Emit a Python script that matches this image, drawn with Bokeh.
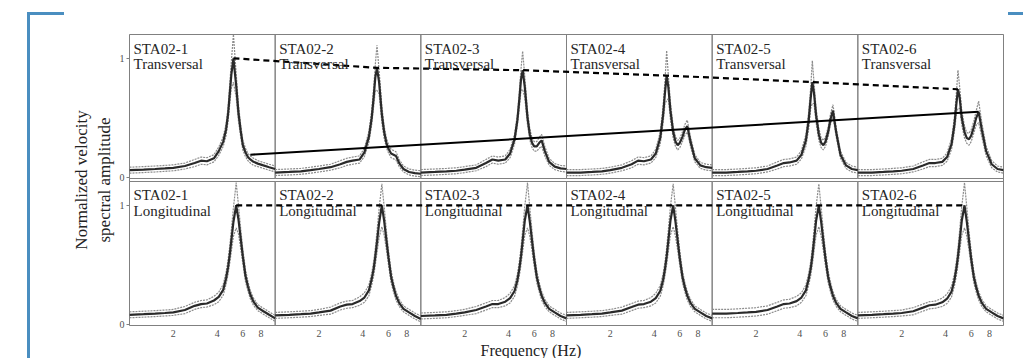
import math
from bokeh.plotting import figure
from bokeh.models import Range1d, FixedTicker, CustomJSTickFormatter, Title, Div
from bokeh.layouts import row
from bokeh.core.properties import value
from bokeh.embed import file_html
from bokeh.resources import INLINE

# ---------------- data ----------------
stations = ["STA02-1", "STA02-2", "STA02-3", "STA02-4", "STA02-5", "STA02-6"]
row_names = ["Transversal", "Longitudinal"]
tick_freqs = [2, 4, 6, 8]
amp_ticks = [0, 1]

freq = [1.0, 1.25, 1.5, 1.75, 2.0, 2.4, 2.8, 3.1, 3.4, 3.8, 4.1, 4.4, 4.6, 4.75, 4.87,
        5.0, 5.17, 5.4, 5.6, 5.8, 6.0, 6.25, 6.5, 6.75, 7.1, 7.6, 8.3, 9.1, 10.0]

# Transversal (top row): mean spectrum and spread (half-width of dotted band)
T1_mean = [0.06, 0.065, 0.07, 0.075, 0.08, 0.095, 0.12, 0.14, 0.135, 0.16, 0.22, 0.30, 0.40, 0.53, 0.69,
           0.86, 1.00, 0.77, 0.54, 0.39, 0.27, 0.21, 0.17, 0.15, 0.13, 0.115, 0.10, 0.085, 0.07]
T2_mean = [0.04, 0.045, 0.05, 0.06, 0.07, 0.085, 0.11, 0.13, 0.14, 0.15, 0.21, 0.34, 0.50, 0.68, 0.84,
           0.92, 0.80, 0.53, 0.38, 0.29, 0.24, 0.20, 0.19, 0.18, 0.12, 0.07, 0.045, 0.035, 0.03]
T3_mean = [0.04, 0.045, 0.05, 0.055, 0.065, 0.08, 0.12, 0.15, 0.14, 0.15, 0.20, 0.32, 0.48, 0.66, 0.82,
           0.90, 0.76, 0.50, 0.36, 0.29, 0.26, 0.26, 0.29, 0.31, 0.22, 0.13, 0.09, 0.075, 0.07]
T4_mean = [0.04, 0.04, 0.045, 0.05, 0.06, 0.08, 0.11, 0.14, 0.135, 0.15, 0.20, 0.33, 0.52, 0.72, 0.855,
           0.76, 0.56, 0.38, 0.30, 0.27, 0.29, 0.34, 0.40, 0.43, 0.30, 0.16, 0.10, 0.085, 0.08]
T5_mean = [0.04, 0.04, 0.045, 0.05, 0.055, 0.07, 0.10, 0.12, 0.125, 0.14, 0.19, 0.31, 0.48, 0.67, 0.80,
           0.71, 0.52, 0.36, 0.29, 0.27, 0.30, 0.38, 0.49, 0.56, 0.38, 0.19, 0.10, 0.07, 0.06]
T6_mean = [0.04, 0.04, 0.045, 0.05, 0.055, 0.07, 0.10, 0.12, 0.12, 0.13, 0.17, 0.28, 0.44, 0.62, 0.74,
           0.67, 0.50, 0.38, 0.33, 0.32, 0.35, 0.42, 0.50, 0.55, 0.40, 0.22, 0.11, 0.07, 0.06]

T1_spread = [0.025, 0.025, 0.025, 0.025, 0.025, 0.025, 0.03, 0.03, 0.03, 0.03, 0.035, 0.04, 0.05, 0.06, 0.08,
             0.11, 0.20, 0.10, 0.07, 0.05, 0.04, 0.035, 0.03, 0.03, 0.03, 0.025, 0.025, 0.025, 0.025]
T2_spread = [0.025, 0.025, 0.025, 0.025, 0.025, 0.025, 0.03, 0.03, 0.03, 0.03, 0.035, 0.045, 0.06, 0.08, 0.11,
             0.19, 0.10, 0.07, 0.05, 0.04, 0.035, 0.035, 0.035, 0.035, 0.03, 0.025, 0.025, 0.025, 0.025]
T3_spread = [0.025, 0.025, 0.025, 0.025, 0.025, 0.025, 0.03, 0.03, 0.03, 0.03, 0.035, 0.04, 0.05, 0.07, 0.09,
             0.16, 0.09, 0.06, 0.045, 0.04, 0.04, 0.04, 0.045, 0.05, 0.04, 0.03, 0.025, 0.025, 0.025]
T4_spread = [0.025, 0.025, 0.025, 0.025, 0.025, 0.025, 0.03, 0.03, 0.03, 0.03, 0.035, 0.05, 0.07, 0.10, 0.21,
             0.10, 0.07, 0.05, 0.04, 0.04, 0.04, 0.04, 0.045, 0.05, 0.04, 0.03, 0.025, 0.025, 0.025]
T5_spread = [0.025, 0.025, 0.025, 0.025, 0.025, 0.025, 0.03, 0.03, 0.03, 0.03, 0.035, 0.05, 0.07, 0.09, 0.18,
             0.09, 0.06, 0.05, 0.04, 0.04, 0.04, 0.04, 0.045, 0.05, 0.04, 0.03, 0.025, 0.025, 0.025]
T6_spread = [0.025, 0.025, 0.025, 0.025, 0.025, 0.025, 0.03, 0.03, 0.03, 0.03, 0.035, 0.045, 0.06, 0.09, 0.16,
             0.09, 0.06, 0.05, 0.045, 0.05, 0.05, 0.05, 0.06, 0.09, 0.06, 0.04, 0.03, 0.025, 0.025]

# Longitudinal (bottom row)
L1_mean = [0.08, 0.085, 0.09, 0.095, 0.10, 0.12, 0.155, 0.17, 0.175, 0.20, 0.23, 0.29, 0.385, 0.48, 0.58,
           0.70, 0.86, 1.00, 0.88, 0.72, 0.57, 0.41, 0.32, 0.25, 0.19, 0.14, 0.11, 0.08, 0.05]
L2_mean = [0.075, 0.08, 0.085, 0.09, 0.10, 0.115, 0.15, 0.165, 0.17, 0.195, 0.225, 0.285, 0.38, 0.47, 0.57,
           0.69, 0.85, 1.00, 0.87, 0.71, 0.56, 0.40, 0.31, 0.24, 0.18, 0.13, 0.10, 0.07, 0.045]
L3_mean = [0.07, 0.075, 0.08, 0.09, 0.10, 0.12, 0.15, 0.17, 0.17, 0.19, 0.22, 0.28, 0.37, 0.47, 0.57,
           0.70, 0.87, 1.00, 0.86, 0.70, 0.55, 0.40, 0.31, 0.24, 0.18, 0.13, 0.10, 0.07, 0.05]
L4_mean = [0.075, 0.08, 0.085, 0.09, 0.10, 0.115, 0.145, 0.165, 0.17, 0.19, 0.22, 0.28, 0.37, 0.47, 0.57,
           0.70, 0.87, 1.00, 0.86, 0.70, 0.55, 0.40, 0.31, 0.24, 0.18, 0.13, 0.10, 0.07, 0.05]
L5_mean = [0.09, 0.09, 0.095, 0.10, 0.105, 0.12, 0.15, 0.17, 0.175, 0.195, 0.225, 0.285, 0.38, 0.47, 0.57,
           0.70, 0.87, 1.00, 0.86, 0.70, 0.55, 0.40, 0.31, 0.24, 0.18, 0.13, 0.10, 0.07, 0.05]
L6_mean = [0.075, 0.08, 0.085, 0.09, 0.095, 0.11, 0.14, 0.16, 0.165, 0.185, 0.215, 0.275, 0.37, 0.47, 0.57,
           0.70, 0.87, 1.00, 0.86, 0.70, 0.55, 0.40, 0.31, 0.24, 0.18, 0.13, 0.10, 0.07, 0.05]

L1_spread = [0.025, 0.025, 0.025, 0.025, 0.025, 0.03, 0.03, 0.03, 0.03, 0.035, 0.04, 0.045, 0.05, 0.06, 0.07,
             0.09, 0.12, 0.19, 0.12, 0.08, 0.06, 0.05, 0.04, 0.035, 0.03, 0.025, 0.025, 0.025, 0.025]
L2_spread = [0.025, 0.025, 0.025, 0.025, 0.025, 0.03, 0.03, 0.03, 0.03, 0.035, 0.04, 0.045, 0.05, 0.06, 0.07,
             0.09, 0.12, 0.18, 0.12, 0.08, 0.06, 0.05, 0.04, 0.035, 0.03, 0.025, 0.025, 0.025, 0.025]
L3_spread = [0.025, 0.025, 0.025, 0.025, 0.025, 0.03, 0.03, 0.03, 0.03, 0.035, 0.04, 0.045, 0.05, 0.06, 0.07,
             0.09, 0.12, 0.19, 0.12, 0.08, 0.06, 0.05, 0.04, 0.035, 0.03, 0.025, 0.025, 0.025, 0.025]
L4_spread = [0.025, 0.025, 0.025, 0.025, 0.025, 0.03, 0.03, 0.03, 0.03, 0.035, 0.04, 0.045, 0.05, 0.06, 0.07,
             0.09, 0.12, 0.18, 0.12, 0.08, 0.06, 0.05, 0.04, 0.035, 0.03, 0.025, 0.025, 0.025, 0.025]
L5_spread = [0.035, 0.035, 0.035, 0.035, 0.035, 0.035, 0.035, 0.035, 0.035, 0.04, 0.04, 0.045, 0.05, 0.06, 0.07,
             0.09, 0.12, 0.18, 0.12, 0.08, 0.06, 0.05, 0.04, 0.035, 0.03, 0.025, 0.025, 0.025, 0.025]
L6_spread = [0.025, 0.025, 0.025, 0.025, 0.025, 0.03, 0.03, 0.03, 0.03, 0.035, 0.04, 0.045, 0.05, 0.06, 0.07,
             0.09, 0.12, 0.19, 0.12, 0.08, 0.06, 0.05, 0.04, 0.035, 0.03, 0.025, 0.025, 0.025, 0.025]

# straight trend of the second transversal mode (solid line), station number / freq / amplitude
mode2_trend_station = [1, 6]
mode2_trend_freq = [6.75, 6.75]
mode2_trend_amp = [0.19, 0.55]

trans_means = [T1_mean, T2_mean, T3_mean, T4_mean, T5_mean, T6_mean]
trans_spreads = [T1_spread, T2_spread, T3_spread, T4_spread, T5_spread, T6_spread]
long_means = [L1_mean, L2_mean, L3_mean, L4_mean, L5_mean, L6_mean]
long_spreads = [L1_spread, L2_spread, L3_spread, L4_spread, L5_spread, L6_spread]

# ---------------- layout constants ----------------
ROW_LO, ROW_HI = -0.01, 1.20
GAP = 0.025
ROW_OFF = (ROW_HI - ROW_LO) + GAP          # vertical offset of the top (transversal) row
SERIF = "Liberation Serif"


def xpos(station_idx, f):
    # each station panel spans one unit; log10 frequency 1..10 Hz inside it
    return station_idx + math.log10(f)


p = figure(frame_width=874, frame_height=291, output_backend="svg", toolbar_location=None,
           x_range=Range1d(0, 6), y_range=Range1d(ROW_LO, ROW_HI + ROW_OFF),
           min_border_left=65, min_border_right=5, min_border_top=34, min_border_bottom=33)
p.xgrid.visible = False
p.ygrid.visible = False
p.outline_line_color = "#808080"
p.outline_line_width = 1
p.background_fill_color = "white"
p.border_fill_color = "white"

# panel frames
for off in (0.0, ROW_OFF):
    p.quad(left=list(range(6)), right=[i + 1 for i in range(6)],
           bottom=[ROW_LO + off] * 6, top=[ROW_HI + off] * 6,
           fill_color=None, line_color="#808080", line_width=1)

# spectra
for off, means, spreads in ((ROW_OFF, trans_means, trans_spreads), (0.0, long_means, long_spreads)):
    for i in range(6):
        xs = [xpos(i, f) for f in freq]
        m = means[i]
        s = spreads[i]
        up = [a + b + off for a, b in zip(m, s)]
        lo = [a - b + off for a, b in zip(m, s)]
        p.line(xs, up, line_color="#8c8c8c", line_width=1.2, line_dash="2 1")
        p.line(xs, lo, line_color="#8c8c8c", line_width=1.2, line_dash="2 1")
        p.line(xs, [a + off for a in m], line_color="#2a2a2a", line_width=2.2)

# dashed lines joining the fundamental peaks
for off, means in ((ROW_OFF, trans_means), (0.0, long_means)):
    px, py = [], []
    for i, m in enumerate(means):
        k = max(range(len(m)), key=lambda j: m[j])
        px.append(xpos(i, freq[k]))
        py.append(m[k] + off)
    p.line(px, py, line_color="black", line_width=2.2, line_dash="6 4")

# solid trend line of second mode
p.line([xpos(s - 1, f) for s, f in zip(mode2_trend_station, mode2_trend_freq)],
       [a + ROW_OFF for a in mode2_trend_amp], line_color="black", line_width=2)

# panel labels
for off, name in ((ROW_OFF, row_names[0]), (0.0, row_names[1])):
    p.text(x=list(range(6)), y=[ROW_HI + off] * 6,
           text=[f"{s}\n{name}" for s in stations],
           text_font=value(SERIF), text_font_size="15px", text_color="#262626",
           text_align="left", text_baseline="top", x_offset=4, y_offset=6,
           text_line_height=0.95)

# axes
xt = [xpos(i, t) for i in range(6) for t in tick_freqs]
p.xaxis.ticker = FixedTicker(ticks=xt)
p.xaxis.formatter = CustomJSTickFormatter(code="""
    const i = Math.floor(tick);
    return Math.round(Math.pow(10, tick - i)).toString();
""")
p.xaxis.axis_line_color = None
p.xaxis.major_tick_line_color = None
p.xaxis.minor_tick_line_color = None
p.xaxis.major_tick_out = 0
p.xaxis.major_tick_in = 0
p.xaxis.major_label_standoff = 4
p.xaxis.major_label_text_font = SERIF
p.xaxis.major_label_text_font_size = "10px"
p.xaxis.major_label_text_color = "#505050"

yt = [v for v in amp_ticks] + [v + ROW_OFF for v in amp_ticks]
p.yaxis.ticker = FixedTicker(ticks=yt)
p.yaxis.formatter = CustomJSTickFormatter(args=dict(off=ROW_OFF), code="""
    const v = tick > off - 0.1 ? tick - off : tick;
    return v.toFixed(0);
""")
p.yaxis.axis_line_color = None
p.yaxis.major_tick_line_color = "#808080"
p.yaxis.major_tick_out = 3
p.yaxis.major_tick_in = 0
p.yaxis.minor_tick_line_color = None
p.yaxis.major_label_standoff = 2
p.yaxis.major_label_text_font = SERIF
p.yaxis.major_label_text_font_size = "10px"
p.yaxis.major_label_text_color = "#505050"
p.yaxis.axis_label = "Normalized velocity\nspectral amplitude"
p.yaxis.axis_label_text_font = SERIF
p.yaxis.axis_label_text_font_size = "17px"
p.yaxis.axis_label_text_font_style = "normal"
p.yaxis.axis_label_text_color = "#222222"
p.yaxis.axis_label_standoff = 3

p.add_layout(Title(text="Frequency (Hz)", align="left", offset=351, standoff=0,
                   text_font=SERIF, text_font_size="16px", text_font_style="normal",
                   text_color="#222222", text_line_height=0.9), "below")

BLUE = "#4a8ec0"
left_deco = Div(width=64, height=358, margin=0, text=(
    f'<div style="margin:12px 0 0 27px;width:37px;height:346px;'
    f'border-left:3px solid {BLUE};border-top:3px solid {BLUE};box-sizing:border-box;"></div>'))
right_deco = Div(width=15, height=358, margin=0, text=(
    f'<div style="margin-top:12px;width:15px;border-top:3px solid {BLUE};"></div>'))

root = row(left_deco, p, right_deco, spacing=0)
open("out.html", "w").write(file_html(root, INLINE))
